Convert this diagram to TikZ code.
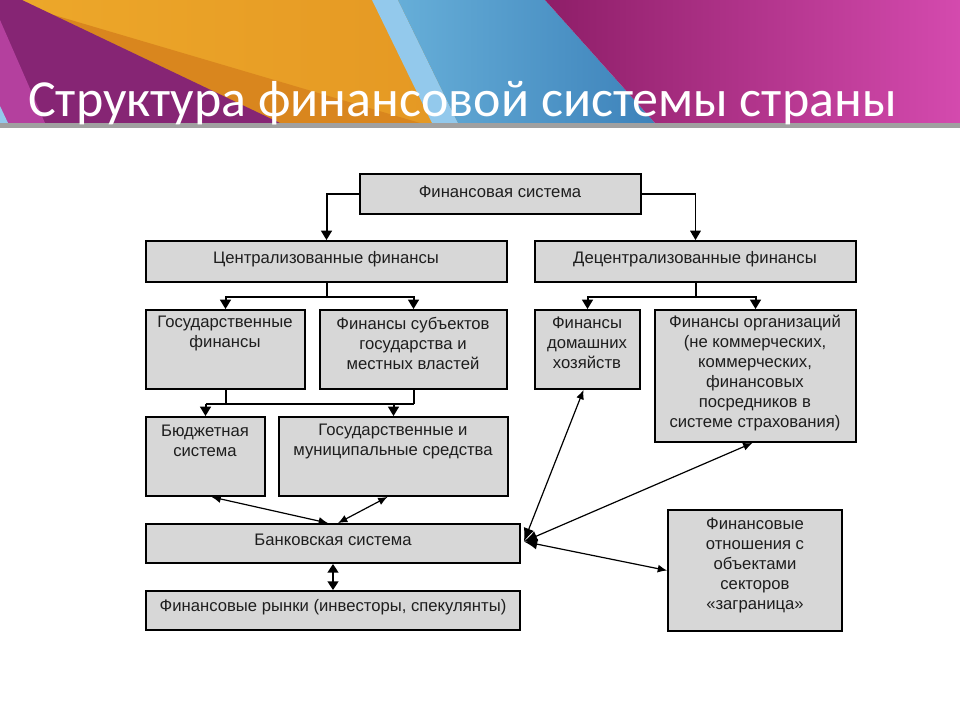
\documentclass[tikz,border=0pt]{standalone}
\usepackage{fontspec}
\setmainfont{Liberation Sans}
\newfontfamily\titlefont{Carlito}
\usetikzlibrary{arrows.meta,fit,calc}
\definecolor{hdrorange}{HTML}{EDA82A}
\definecolor{hdrorange2}{HTML}{E39522}
\definecolor{hdrdark}{HTML}{D9861E}
\definecolor{hdrpurple}{HTML}{862574}
\definecolor{hdrmag}{HTML}{B4409E}
\definecolor{hdrlblue}{HTML}{93C9EC}
\definecolor{hdrblue1}{HTML}{66AED8}
\definecolor{hdrblue2}{HTML}{3D82BA}
\definecolor{hdrpink1}{HTML}{8E1E68}
\definecolor{hdrpink2}{HTML}{D44AAE}
\definecolor{barGray}{HTML}{A0A0A0}
\definecolor{boxfill}{HTML}{D7D7D7}
\definecolor{txt}{HTML}{1E1E1E}
\begin{document}
\begin{tikzpicture}[x=0.75pt,y=-0.75pt,
  box/.style={draw=black, line width=1.4pt, fill=boxfill, inner sep=0pt},
  lbl/.style={text=txt, align=center, inner sep=0pt, font=\fontsize{12.5}{15}\selectfont},
  tree/.style={line width=1.5pt, draw=black},
  arr/.style={tree, -{Triangle[length=7pt,width=8pt]}},
  arrthin/.style={line width=0.9pt, -{Triangle[length=7pt,width=8pt]}},
  dbl/.style={line width=0.9pt, {Latex[length=7pt,width=6pt]}-{Latex[length=7pt,width=6pt]}},
  hubdbl/.style={line width=0.9pt, {Latex[length=10pt,width=8pt]}-{Latex[length=7pt,width=6pt]}},
  dblthick/.style={line width=1.5pt, {Triangle[length=6.5pt,width=8pt]}-{Triangle[length=6.5pt,width=8pt]}}
]
\useasboundingbox (0,0) rectangle (960,720);
\fill[white] (0,0) rectangle (960,720);
% ---------- header ----------
\shade[left color=hdrorange, right color=hdrorange2] (0,0) rectangle (545,123);
\fill[hdrdark] (20,5) -- (280,123) -- (420,123) -- cycle;
\fill[hdrpurple] (0,0) -- (22,0) -- (280,123) -- (0,123) -- cycle;
\fill[hdrmag] (0,20) -- (45,123) -- (0,123) -- cycle;
\fill[hdrlblue] (0,106) -- (8,123) -- (0,123) -- cycle;
\fill[hdrlblue] (372,0) -- (398,0) -- (458,123) -- (432,123) -- cycle;
\shade[left color=hdrblue1, right color=hdrblue2] (398,0) -- (545,0) -- (655,123) -- (458,123) -- cycle;
\shade[left color=hdrpink1, right color=hdrpink2] (545,0) -- (960,0) -- (960,123) -- (655,123) -- cycle;
\fill[barGray] (0,123) rectangle (960,128);
\node[anchor=base west, text=white, inner sep=0pt, font=\titlefont\fontsize{39}{44}\selectfont] (title) at (28,117) {Структура финансовой системы страны};
% ---------- boxes ----------
\node[box, fit={(360,174) (641,214)}] (fs) {};
\node[box, fit={(146,241) (507,282)}] (cf) {};
\node[box, fit={(535,241) (856,282)}] (df) {};
\node[box, fit={(146,310) (305,389)}] (gf) {};
\node[box, fit={(320,310) (507,389)}] (fsg) {};
\node[box, fit={(535,310) (640,389)}] (fdh) {};
\node[box, fit={(655,310) (856,442)}] (fo) {};
\node[box, fit={(146,417) (265,496)}] (bs) {};
\node[box, fit={(279,417) (508,496)}] (gms) {};
\node[box, fit={(146,524) (520,563)}] (bank) {};
\node[box, fit={(146,591) (520,630)}] (fr) {};
\node[box, fit={(668,510) (842,631)}] (foz) {};
% ---------- texts ----------
\node[lbl] (fs-t) at (500,192) {Финансовая система};
\node[lbl] (cf-t) at (326,259) {Централизованные финансы};
\node[lbl] (df-t) at (695,259) {Децентрализованные финансы};
\node[lbl] (gf-t) at (225,333) {Государственные\\финансы};
\node[lbl] (fsg-t) at (413,343) {Финансы субъектов\\государства и\\местных властей};
\node[lbl] (fdh-t) at (587,343) {Финансы\\домашних\\хозяйств};
\node[lbl] (fo-t) at (755,373) {Финансы организаций\\(не коммерческих,\\коммерческих,\\финансовых\\посредников в\\системе страхования)};
\node[lbl] (bs-t) at (205,441) {Бюджетная\\система};
\node[lbl] (gms-t) at (393,441) {Государственные и\\муниципальные средства};
\node[lbl] (bank-t) at (333,540) {Банковская система};
\node[lbl] (fr-t) at (333,607) {Финансовые рынки (инвесторы, спекулянты)};
\node[lbl] (foz-t) at (755,565) {Финансовые\\отношения с\\объектами\\секторов\\«заграница»};
% ---------- tree connectors ----------
\draw[arr] (fs.west) -| (cf.north);
\draw[arrthin] (fs.east) -| (df.north);
\coordinate (cfj) at ($(cf.south)+(0,14)$);
\draw[tree] (cf.south) -- (cfj);
\draw[arr] (cfj) -| (gf.north);
\draw[arr] (cfj) -| (fsg.north);
\coordinate (dfj) at ($(df.south)+(0,14)$);
\draw[tree] (df.south) -- (dfj);
\draw[arr] (dfj) -| (fdh.north);
\draw[arr] (dfj) -| (fo.north);
\coordinate (gfj) at ($(gf.south)+(0,14)$);
\coordinate (fsgj) at ($(fsg.south)+(0,14)$);
\draw[tree] (gf.south) -- (gfj);
\draw[tree] (fsg.south) -- (fsgj);
\draw[tree] (bs.north |- gfj) -- (fsgj);
\draw[arr] (bs.north |- gfj) -- (bs.north);
\draw[arr] (gms.north |- gfj) -- (gms.north);
% ---------- relations ----------
\draw[dbl] ($(bs.south)+(6,0)$) -- ($(bank.north)+(-5,0)$);
\draw[dbl] ($(gms.south)+(-6,0)$) -- ($(bank.north)+(5,0)$);
\draw[dblthick] (bank.south) -- (fr.north);
\coordinate (hub) at ($(bank.east)+(3,-2)$);
\draw[hubdbl] (hub) -- ($(fdh.south)+(-4,0)$);
\draw[hubdbl] (hub) -- ($(fo.south)+(-3,0)$);
\draw[hubdbl] (hub) -- (foz.west);
\end{tikzpicture}
\end{document}
